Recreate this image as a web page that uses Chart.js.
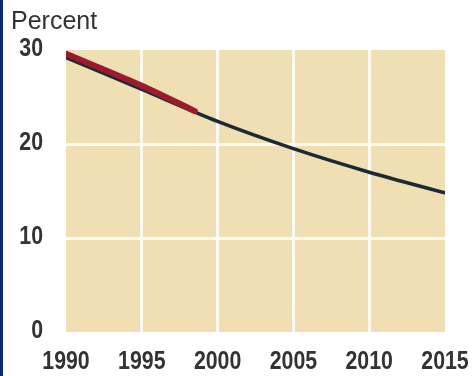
<!DOCTYPE html>
<html>
<head>
    <title>Percent</title>
    <script src="https://cdn.jsdelivr.net/npm/chart.js"></script>
    <style>
        body { margin: 0; background: #fff; }
        #wrap { position: relative; width: 472px; height: 376px; overflow: hidden; }
        #edge { position: absolute; left: 0; top: 0; width: 3px; height: 376px; background: #0d2a6b; }
        #unit { position: absolute; left: 11px; top: 6px; font: 25px "Liberation Sans", sans-serif; color: #333; }
    </style>
</head>
<body>
<div id="wrap">
    <canvas id="chart" width="472" height="376"></canvas>
    <div id="edge"></div>
    <div id="unit">Percent</div>
</div>
<script>
    // observed share (red) and projection (dark line), percent
    var actualYears = [1990, 1995, 1998.5];
    var actualValues = [29.6, 26.2, 23.5];
    var projYears = [1990, 1995, 2000, 2005, 2010, 2015];
    var projValues = [29.2, 25.8, 22.4, 19.5, 17.0, 14.8];
    var yTicks = [0, 10, 20, 30];

    function pts(xs, ys) {
        return xs.map(function (x, i) { return { x: x, y: ys[i] }; });
    }

    // tan panel behind the grid
    var panel = {
        id: 'panel',
        beforeDraw: function (chart) {
            var a = chart.chartArea, c = chart.ctx;
            c.save();
            c.fillStyle = '#efdfb2';
            c.fillRect(a.left, a.top, a.right - a.left, a.bottom - a.top);
            c.restore();
        }
    };

    // tick labels in a squeezed (condensed) face, placed from the scales' own ticks
    var SQUEEZE = 0.82;
    var narrowTicks = {
        id: 'narrowTicks',
        afterDraw: function (chart) {
            var c = chart.ctx, xs = chart.scales.x, ys = chart.scales.y;
            c.save();
            c.font = 'bold 26px "Liberation Sans", sans-serif';
            c.fillStyle = '#333';
            c.textBaseline = 'middle';
            xs.ticks.forEach(function (t) {
                var px = xs.getPixelForValue(t.value);
                c.save();
                c.translate(px, 362);
                c.scale(SQUEEZE, 1);
                c.textAlign = 'center';
                c.fillText(String(t.value), 0, 0);
                c.restore();
            });
            ys.ticks.forEach(function (t) {
                var py = ys.getPixelForValue(t.value);
                c.save();
                c.translate(chart.chartArea.left - 23, py - 1);
                c.scale(SQUEEZE, 1);
                c.textAlign = 'right';
                c.fillText(String(t.value), 0, 0);
                c.restore();
            });
            c.restore();
        }
    };

    function innerGrid(min, max) {
        return function (ctx) {
            var v = ctx.tick && ctx.tick.value;
            return (v > min && v < max) ? '#fffaf0' : 'rgba(0,0,0,0)';
        };
    }

    new Chart(document.getElementById('chart'), {
        type: 'line',
        data: {
            datasets: [{
                data: pts(actualYears, actualValues),
                borderColor: '#9a1a2e',
                borderWidth: 6,
                borderCapStyle: 'round',
                pointRadius: 0,
                tension: 0.3
            }, {
                data: pts(projYears, projValues),
                borderColor: '#1b2a35',
                borderWidth: 3.5,
                borderCapStyle: 'round',
                pointRadius: 0,
                tension: 0.3
            }]
        },
        options: {
            responsive: false,
            animation: false,
            layout: { padding: { left: 0, right: 27, top: 50, bottom: 0 } },
            plugins: { legend: { display: false }, tooltip: { enabled: false } },
            scales: {
                x: {
                    type: 'linear',
                    min: 1990, max: 2015,
                    border: { display: false },
                    grid: { color: innerGrid(1990, 2015), lineWidth: 3, drawTicks: false },
                    ticks: { stepSize: 5, display: false },
                    afterFit: function (s) { s.height = 44; }
                },
                y: {
                    min: 0, max: 30,
                    border: { display: false },
                    grid: { color: innerGrid(0, 30), lineWidth: 3, drawTicks: false },
                    afterBuildTicks: function (s) { s.ticks = yTicks.map(function (v) { return { value: v }; }); },
                    ticks: { display: false },
                    afterFit: function (s) { s.width = 66; }
                }
            }
        },
        plugins: [panel, narrowTicks]
    });
</script>
</body>
</html>
